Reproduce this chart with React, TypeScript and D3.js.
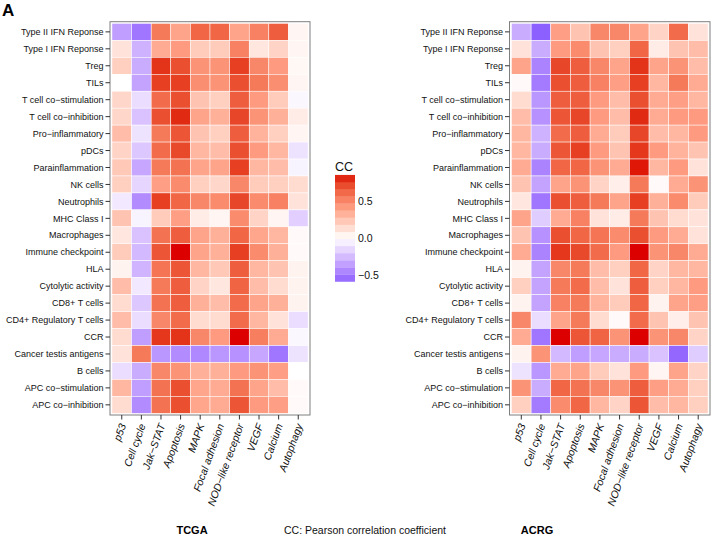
import React from 'react';
import * as d3 from 'd3';

const ROWS = [
  "Type II IFN Reponse", "Type I IFN Reponse", "Treg", "TILs",
  "T cell co\u2212stimulation", "T cell co\u2212inhibition", "Pro\u2212inflammatory", "pDCs",
  "Parainflammation", "NK cells", "Neutrophils", "MHC Class I", "Macrophages",
  "Immune checkpoint", "HLA", "Cytolytic activity", "CD8+ T cells",
  "CD4+ Regulatory T cells", "CCR", "Cancer testis antigens", "B cells",
  "APC co\u2212stimulation", "APC co\u2212inhibition",
];
const PATHWAYS = [
  "p53", "Cell cycle", "Jak\u2212STAT", "Apoptosis", "MAPK", "Focal adhesion",
  "NOD\u2212like receptor", "VEGF", "Calcium", "Autophagy",
];

// rows in ROWS order, columns in PATHWAYS order
const TCGA_CC = [
  [-0.35, -0.5, 0.55, 0.38, 0.62, 0.62, 0.38, 0.52, 0.65, 0.04],
  [0.12, -0.28, 0.35, 0.42, 0.22, 0.22, 0.52, 0.1, 0.18, 0.04],
  [0.2, -0.3, 0.78, 0.7, 0.45, 0.45, 0.75, 0.5, 0.42, 0.03],
  [0.0, -0.33, 0.75, 0.75, 0.47, 0.45, 0.7, 0.55, 0.47, 0.04],
  [0.17, -0.12, 0.6, 0.7, 0.25, 0.2, 0.65, 0.42, 0.22, -0.03],
  [0.17, -0.22, 0.7, 0.8, 0.38, 0.33, 0.73, 0.45, 0.33, 0.08],
  [0.28, -0.1, 0.55, 0.68, 0.25, 0.2, 0.65, 0.32, 0.2, 0.04],
  [0.18, -0.2, 0.6, 0.72, 0.3, 0.28, 0.7, 0.42, 0.3, -0.1],
  [0.23, -0.32, 0.55, 0.58, 0.38, 0.38, 0.75, 0.3, 0.28, -0.04],
  [0.2, -0.15, 0.4, 0.48, 0.2, 0.17, 0.5, 0.22, 0.2, 0.15],
  [-0.08, -0.42, 0.75, 0.62, 0.5, 0.48, 0.73, 0.48, 0.52, 0.12],
  [0.25, -0.04, 0.22, 0.4, 0.08, 0.04, 0.48, 0.18, 0.04, -0.17],
  [0.1, -0.22, 0.58, 0.65, 0.38, 0.33, 0.62, 0.37, 0.3, 0.02],
  [0.22, -0.25, 0.68, 0.85, 0.38, 0.33, 0.75, 0.48, 0.33, 0.02],
  [0.05, -0.27, 0.57, 0.68, 0.3, 0.23, 0.65, 0.3, 0.25, 0.05],
  [0.28, -0.08, 0.55, 0.65, 0.18, 0.1, 0.63, 0.28, 0.15, 0.05],
  [0.15, -0.2, 0.58, 0.65, 0.33, 0.28, 0.6, 0.38, 0.33, 0.05],
  [0.28, -0.12, 0.5, 0.6, 0.15, 0.15, 0.6, 0.3, 0.12, -0.12],
  [0.15, -0.35, 0.77, 0.78, 0.5, 0.42, 0.85, 0.53, 0.35, -0.03],
  [0.12, 0.55, -0.38, -0.42, -0.43, -0.38, -0.4, -0.32, -0.5, -0.1],
  [-0.12, -0.3, 0.5, 0.45, 0.33, 0.33, 0.42, 0.45, 0.4, 0.0],
  [0.3, -0.35, 0.58, 0.7, 0.37, 0.35, 0.58, 0.38, 0.28, 0.02],
  [0.15, -0.42, 0.58, 0.7, 0.37, 0.35, 0.68, 0.42, 0.4, 0.02],
];

const ACRG_CC = [
  [-0.3, -0.58, 0.4, 0.25, 0.5, 0.5, 0.38, 0.18, 0.6, 0.12],
  [0.12, -0.3, 0.42, 0.48, 0.25, 0.2, 0.62, 0.08, 0.25, 0.28],
  [0.38, -0.45, 0.73, 0.65, 0.5, 0.38, 0.78, 0.38, 0.45, 0.28],
  [0.02, -0.48, 0.7, 0.65, 0.52, 0.4, 0.75, 0.3, 0.55, 0.35],
  [0.15, -0.38, 0.65, 0.65, 0.42, 0.28, 0.7, 0.35, 0.4, 0.3],
  [0.28, -0.4, 0.68, 0.73, 0.42, 0.28, 0.8, 0.35, 0.42, 0.42],
  [0.3, -0.28, 0.6, 0.65, 0.35, 0.22, 0.73, 0.28, 0.3, 0.42],
  [0.3, -0.3, 0.68, 0.75, 0.42, 0.25, 0.77, 0.42, 0.32, 0.25],
  [0.35, -0.45, 0.62, 0.62, 0.45, 0.35, 0.83, 0.3, 0.42, 0.12],
  [0.25, -0.33, 0.38, 0.45, 0.18, 0.07, 0.55, 0.02, 0.35, 0.45],
  [0.1, -0.5, 0.7, 0.65, 0.55, 0.38, 0.75, 0.33, 0.48, 0.22],
  [0.38, -0.18, 0.35, 0.52, 0.12, 0.08, 0.55, 0.25, 0.15, 0.12],
  [0.25, -0.4, 0.7, 0.62, 0.57, 0.48, 0.7, 0.42, 0.35, 0.12],
  [0.35, -0.45, 0.77, 0.72, 0.6, 0.42, 0.85, 0.45, 0.5, 0.35],
  [0.05, -0.33, 0.5, 0.55, 0.28, 0.2, 0.62, 0.18, 0.3, 0.3],
  [0.2, -0.33, 0.55, 0.6, 0.28, 0.12, 0.65, 0.2, 0.3, 0.42],
  [0.05, -0.33, 0.52, 0.55, 0.32, 0.22, 0.62, 0.05, 0.38, 0.4],
  [0.5, -0.12, 0.38, 0.55, 0.15, 0.02, 0.6, 0.25, 0.07, 0.25],
  [0.35, -0.5, 0.85, 0.68, 0.63, 0.45, 0.85, 0.45, 0.5, 0.18],
  [0.05, 0.45, -0.25, -0.35, -0.32, -0.3, -0.3, -0.22, -0.55, -0.18],
  [-0.1, -0.38, 0.35, 0.38, 0.22, 0.12, 0.42, 0.04, 0.38, 0.18],
  [0.45, -0.3, 0.62, 0.58, 0.5, 0.45, 0.65, 0.4, 0.35, 0.2],
  [0.2, -0.48, 0.48, 0.62, 0.3, 0.18, 0.68, 0.28, 0.3, 0.2],
];

const LEGEND_TICKS = [-0.5, 0, 0.5];
const PANEL_TITLES = ["TCGA", "ACRG"];
const CAPTION = "CC: Pearson correlation coefficient";

const FONT = "'Liberation Sans', Arial, Helvetica, sans-serif";

const allVals = [...TCGA_CC.flat(), ...ACRG_CC.flat()];
const vMin = d3.min(allVals) as number;
const vMax = d3.max(allVals) as number;
const maxAbs = Math.max(Math.abs(vMin), Math.abs(vMax));
const posInterp = d3.interpolateLab("#ffffff", "#dc0000");
const negInterp = d3.interpolateLab("#ffffff", "#1a00ff");
const fill = (v: number) => (v >= 0 ? posInterp(v / maxAbs) : negInterp(-v / maxAbs));

type PanelProps = { x0: number; x1: number; y0: number; y1: number; data: number[][] };

function Panel({ x0, x1, y0, y1, data }: PanelProps) {
  // discrete scales with ggplot-like 0.6 expansion (0.1 band gap at the edges)
  const xs = d3.scaleBand<string>().domain(PATHWAYS).range([x0, x1]).paddingInner(0).paddingOuter(0.1);
  const ys = d3.scaleBand<string>().domain(ROWS).range([y0, y1]).paddingInner(0).paddingOuter(0.1);
  return (
    <g>
      {ROWS.map((r, i) =>
        PATHWAYS.map((p, j) => (
          <rect key={r + p} x={xs(p)} y={ys(r)} width={xs.bandwidth()} height={ys.bandwidth()}
            fill={fill(data[i][j])} stroke="#ffffff" strokeWidth={0.5} />
        ))
      )}
      <rect x={x0} y={y0} width={x1 - x0} height={y1 - y0} fill="none" stroke="#7f7f7f" strokeWidth={1} />
      {ROWS.map((r) => {
        const cy = (ys(r) as number) + ys.bandwidth() / 2;
        return (
          <g key={r}>
            <line x1={x0 - 4.5} x2={x0} y1={cy} y2={cy} stroke="#333" strokeWidth={1} />
            <text x={x0 - 6.5} y={cy} dy="0.35em" textAnchor="end" fontSize={9} fill="#111" fontFamily={FONT}>{r}</text>
          </g>
        );
      })}
      {PATHWAYS.map((p) => {
        const cx = (xs(p) as number) + xs.bandwidth() / 2;
        const ty = y1 + 9;
        return (
          <g key={p}>
            <line x1={cx} x2={cx} y1={y1} y2={y1 + 4.5} stroke="#333" strokeWidth={1} />
            <text transform={`translate(${cx + 1},${ty}) rotate(-70)`} dy="0.35em" textAnchor="end"
              fontSize={10.5} fontStyle="italic" fill="#111" fontFamily={FONT}>{p}</text>
          </g>
        );
      })}
    </g>
  );
}

function Legend() {
  const ly = d3.scaleLinear().domain([-0.5, 0.5]).range([275.5, 201]);
  const nbin = 15;
  const step = (vMax - vMin) / nbin;
  const bins = d3.range(nbin).map((k) => vMin + step * (k + 0.5));
  const bx = 335;
  const bw = 20;
  return (
    <g>
      <text x={bx} y={171} fontSize={12.5} fill="#111" fontFamily={FONT}>CC</text>
      {bins.map((c, k) => {
        const top = ly(vMin + step * (k + 1));
        const bot = ly(vMin + step * k);
        return <rect key={k} x={bx} y={top} width={bw} height={bot - top + 0.3} fill={fill(c)} />;
      })}
      {LEGEND_TICKS.map((t) => (
        <text key={t} x={bx + bw + 3} y={ly(t)} dy="0.35em" fontSize={10.5} fill="#111" fontFamily={FONT}>
          {t < 0 ? "\u2212" + Math.abs(t).toFixed(1) : t.toFixed(1)}
        </text>
      ))}
    </g>
  );
}

export default function App() {
  return (
    <svg width={714} height={537} style={{ position: 'absolute', left: 0, top: 0, display: 'block', background: '#fff' }}>
      <rect x={0} y={0} width={714} height={537} fill="#fff" />
      <text x={2} y={16} fontSize={17} fontWeight="bold" fill="#000" fontFamily={FONT}>A</text>
      <Panel x0={110} x1={310} y0={21.7} y1={415} data={TCGA_CC} />
      <Panel x0={509.5} x1={710} y0={21.7} y1={415} data={ACRG_CC} />
      <Legend />
      <text x={192} y={534} textAnchor="middle" fontSize={11} fontWeight="bold" fill="#000" fontFamily={FONT}>{PANEL_TITLES[0]}</text>
      <text x={365} y={534} textAnchor="middle" fontSize={10.5} fill="#111" fontFamily={FONT}>{CAPTION}</text>
      <text x={537} y={534} textAnchor="middle" fontSize={11} fontWeight="bold" fill="#000" fontFamily={FONT}>{PANEL_TITLES[1]}</text>
    </svg>
  );
}
